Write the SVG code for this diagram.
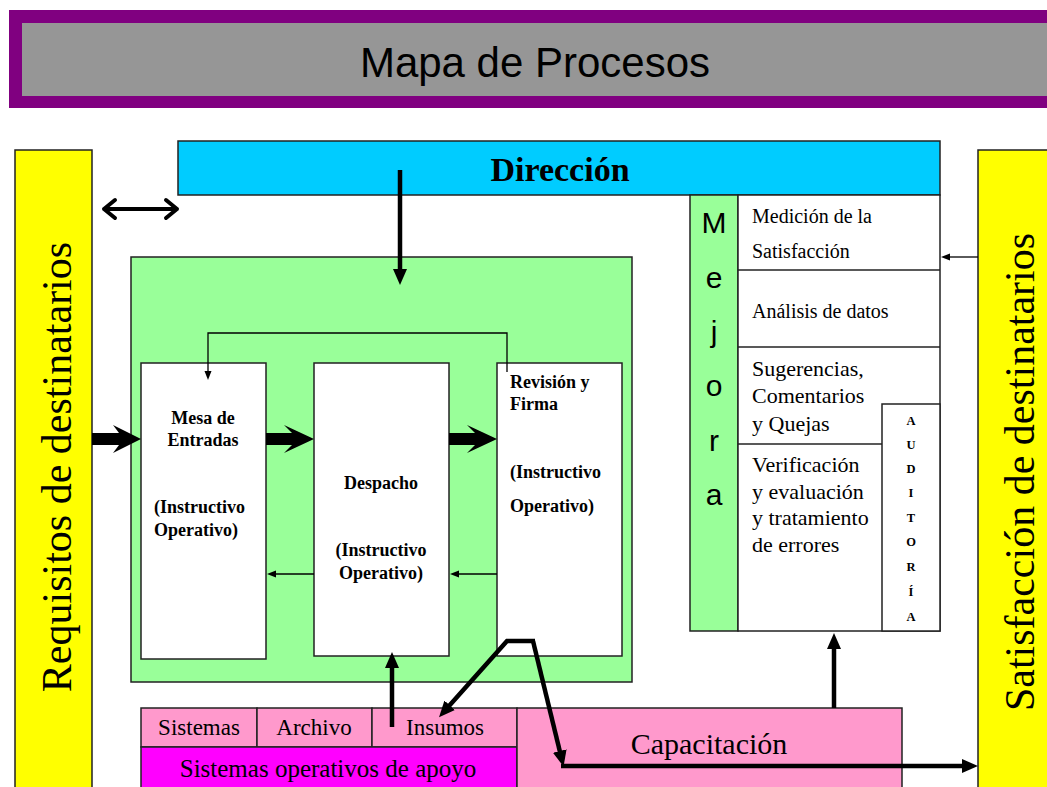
<svg xmlns="http://www.w3.org/2000/svg" width="1047" height="787" viewBox="0 0 1047 787">
  <style>
    .box { stroke: #222; stroke-width: 1.5; }
    .serif { font-family: "Liberation Serif", "Times New Roman", serif; fill: #000; }
    .sans { font-family: "Liberation Sans", Arial, sans-serif; fill: #000; }
    .bold { font-weight: bold; }
    .thick { stroke: #000; stroke-width: 4.5; fill: none; stroke-linejoin: miter; }
    .thin { stroke: #000; stroke-width: 1.3; fill: none; }
    .mid { text-anchor: middle; }
  </style>
  <defs>
    <marker id="headThick" markerUnits="userSpaceOnUse" markerWidth="16" markerHeight="16" viewBox="0 0 16 16" refX="1" refY="8" orient="auto">
      <path d="M0,1 L16,8 L0,15 Z" fill="#000"/>
    </marker>
    <marker id="headThin" markerUnits="userSpaceOnUse" markerWidth="9" markerHeight="8" viewBox="0 0 9 8" refX="1" refY="4" orient="auto">
      <path d="M0,0.5 L9,4 L0,7.5 Z" fill="#000"/>
    </marker>
  </defs>

  <rect width="1047" height="787" fill="#fff"/>

  <g id="title">
    <rect x="9" y="10" width="1045" height="98" fill="#800080"/>
    <rect x="22" y="23" width="1030" height="73" fill="#969696"/>
    <text x="535" y="77" class="sans mid" font-size="42">Mapa de Procesos</text>
  </g>

  <g id="direccion">
    <rect x="178" y="141" width="762" height="54" fill="#00CCFF" class="box"/>
    <text x="560" y="181" class="serif bold mid" font-size="34">Dirección</text>
  </g>

  <g id="requisitos">
    <rect x="15" y="150" width="77" height="645" fill="#FFFF00" class="box"/>
    <text transform="translate(71,467) rotate(-90)" class="serif mid" font-size="42">Requisitos de destinatarios</text>
  </g>

  <g id="satisfaccion">
    <rect x="978" y="150" width="75" height="645" fill="#FFFF00" class="box"/>
    <text transform="translate(1034,472) rotate(-90)" class="serif mid" font-size="42">Satisfacción de destinatarios</text>
  </g>

  <g id="procesos">
    <rect x="131" y="257" width="501" height="425" fill="#99FF99" class="box"/>
  </g>

  <g id="mesa">
    <rect x="141" y="363" width="125" height="296" fill="#fff" class="box"/>
    <text x="203" y="424" class="serif bold mid" font-size="18">Mesa de</text>
    <text x="203" y="446" class="serif bold mid" font-size="18">Entradas</text>
    <text x="154" y="513" class="serif bold" font-size="18">(Instructivo</text>
    <text x="154" y="536" class="serif bold" font-size="18">Operativo)</text>
  </g>

  <g id="despacho">
    <rect x="314" y="363" width="135" height="293" fill="#fff" class="box"/>
    <text x="381" y="489" class="serif bold mid" font-size="18">Despacho</text>
    <text x="381" y="556" class="serif bold mid" font-size="18">(Instructivo</text>
    <text x="381" y="579" class="serif bold mid" font-size="18">Operativo)</text>
  </g>

  <g id="revision">
    <rect x="497" y="363" width="125" height="293" fill="#fff" class="box"/>
    <text x="510" y="388" class="serif bold" font-size="18">Revisión y</text>
    <text x="510" y="410" class="serif bold" font-size="18">Firma</text>
    <text x="510" y="478" class="serif bold" font-size="18">(Instructivo</text>
    <text x="510" y="512" class="serif bold" font-size="18">Operativo)</text>
  </g>

  <g id="mejora">
    <rect x="690" y="195" width="48" height="436" fill="#99FF99" class="box"/>
    <text x="714" y="233" class="sans mid" font-size="30">M</text>
    <text x="714" y="288" class="sans mid" font-size="30">e</text>
    <text x="714" y="342" class="sans mid" font-size="30">j</text>
    <text x="714" y="396" class="sans mid" font-size="30">o</text>
    <text x="714" y="451" class="sans mid" font-size="30">r</text>
    <text x="714" y="505" class="sans mid" font-size="30">a</text>
  </g>

  <g id="mejora-detalle">
    <rect x="738" y="195" width="202" height="436" fill="#fff" class="box"/>
    <line x1="738" y1="270" x2="940" y2="270" class="box"/>
    <line x1="738" y1="347" x2="940" y2="347" class="box"/>
    <line x1="738" y1="444" x2="882" y2="444" class="box"/>
    <text x="752" y="223" class="serif" font-size="20">Medición de la</text>
    <text x="752" y="258" class="serif" font-size="20">Satisfacción</text>
    <text x="752" y="318" class="serif" font-size="20">Análisis de datos</text>
    <text x="752" y="376" class="serif" font-size="22">Sugerencias,</text>
    <text x="752" y="403" class="serif" font-size="22">Comentarios</text>
    <text x="752" y="431" class="serif" font-size="22">y Quejas</text>
    <text x="752" y="472" class="serif" font-size="22">Verificación</text>
    <text x="752" y="499" class="serif" font-size="22">y evaluación</text>
    <text x="752" y="525" class="serif" font-size="22">y tratamiento</text>
    <text x="752" y="552" class="serif" font-size="22">de errores</text>
  </g>

  <g id="auditoria">
    <rect x="882" y="404" width="58" height="227" fill="#fff" class="box"/>
    <g class="serif bold mid" font-size="12.5">
      <text x="911" y="425">A</text>
      <text x="911" y="449">U</text>
      <text x="911" y="473">D</text>
      <text x="911" y="497">I</text>
      <text x="911" y="522">T</text>
      <text x="911" y="546">O</text>
      <text x="911" y="571">R</text>
      <text x="911" y="596">Í</text>
      <text x="911" y="621">A</text>
    </g>
  </g>

  <g id="apoyo">
    <rect x="141" y="708" width="116" height="39" fill="#FF99CC" class="box"/>
    <rect x="257" y="708" width="115" height="39" fill="#FF99CC" class="box"/>
    <rect x="372" y="708" width="145" height="39" fill="#FF99CC" class="box"/>
    <rect x="141" y="747" width="376" height="48" fill="#FF00FF" class="box"/>
    <text x="199" y="735" class="serif mid" font-size="23">Sistemas</text>
    <text x="314" y="735" class="serif mid" font-size="23">Archivo</text>
    <text x="445" y="735" class="serif mid" font-size="23">Insumos</text>
    <text x="328" y="777" class="serif mid" font-size="25">Sistemas operativos de apoyo</text>
  </g>

  <g id="capacitacion">
    <rect x="517" y="708" width="385" height="87" fill="#FF99CC" class="box"/>
    <text x="709" y="754" class="serif mid" font-size="30">Capacitación</text>
  </g>

  <g id="connectors">
    <line x1="400" y1="170" x2="400" y2="270" class="thick" marker-end="url(#headThick)"/>
    <path d="M104,209 L177,209 M115,200 L104,209 L115,218 M166,200 L177,209 L166,218" stroke="#000" stroke-width="4" fill="none" stroke-linecap="round" stroke-linejoin="round"/>
    <path d="M92,433 L119,433 L113,425 L141,439 L113,453 L119,445 L92,445 Z" fill="#000"/>
    <path d="M266,433 L292,433 L284,425 L314,439 L284,453 L292,445 L266,445 Z" fill="#000"/>
    <path d="M449,433 L475,433 L467,425 L497,439 L467,453 L475,445 L449,445 Z" fill="#000"/>
    <polyline points="507,372 507,333 208,333 208,372" class="thin" marker-end="url(#headThin)"/>
    <line x1="314" y1="574" x2="275" y2="574" class="thin" marker-end="url(#headThin)"/>
    <line x1="497" y1="574" x2="458" y2="574" class="thin" marker-end="url(#headThin)"/>
    <line x1="392" y1="727" x2="392" y2="667" class="thick" marker-end="url(#headThick)"/>
    <polyline points="535,641 507,641 449,706" class="thick" marker-end="url(#headThick)"/>
    <polyline points="533,641 560,752" class="thick" marker-end="url(#headThick)"/>
    <line x1="561" y1="766" x2="963" y2="766" class="thick" marker-end="url(#headThick)"/>
    <line x1="834" y1="708" x2="834" y2="648" class="thick" marker-end="url(#headThick)"/>
    <line x1="978" y1="257" x2="949" y2="257" class="thin" marker-end="url(#headThin)"/>
  </g>
</svg>
